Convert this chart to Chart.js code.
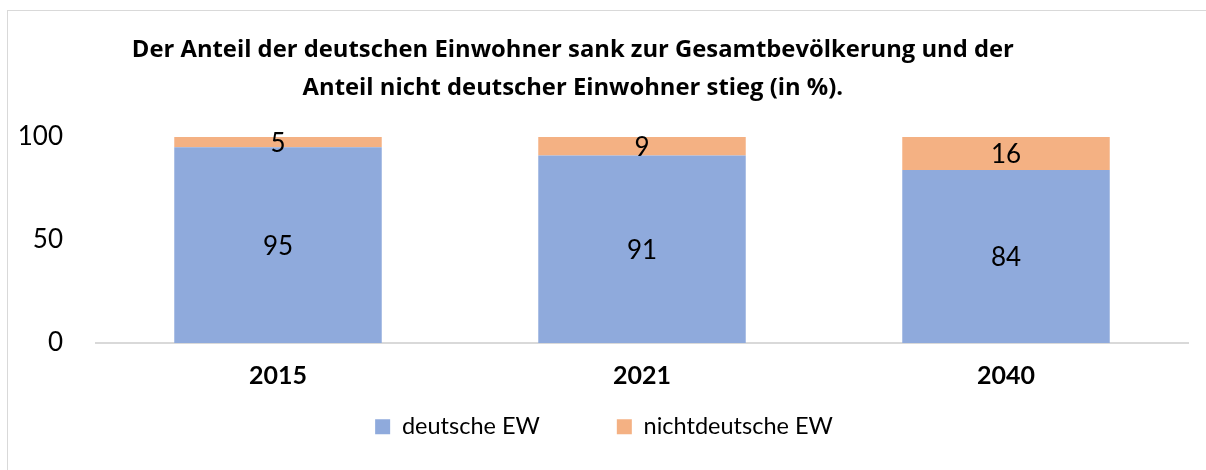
<!DOCTYPE html>
<html>
<head>
<meta charset="utf-8">
<script src="https://cdn.jsdelivr.net/npm/chart.js@4.4.0/dist/chart.umd.min.js"></script>
<style>
  html, body { margin: 0; padding: 0; background: #fff; overflow: hidden; }
  #wrap { position: relative; width: 1206px; height: 470px; }
  #frame { position: absolute; left: 7px; top: 10px; width: 1400px; height: 600px; border: 1px solid #d9d9d9; }
  canvas { position: absolute; left: 0; top: 0; }
</style>
</head>
<body>
<div id="wrap">
  <div id="frame"></div>
  <canvas id="chart" width="1206" height="470"></canvas>
</div>
<script>
const years = ['2015', '2021', '2040'];
const deutsche = [95, 91, 84];
const nichtdeutsche = [5, 9, 16];
const titleLines = [
  'Der Anteil der deutschen Einwohner sank zur Gesamtbevölkerung und der',
  'Anteil nicht deutscher Einwohner stieg (in %).'
];

const FONT = 'Lato';

// draws the values in the middle of every segment
const valueLabels = {
  id: 'valueLabels',
  afterDatasetsDraw(chart) {
    const ctx = chart.ctx;
    ctx.save();
    ctx.font = '26px ' + FONT;
    ctx.fillStyle = '#000';
    ctx.textAlign = 'center';
    ctx.textBaseline = 'middle';
    chart.data.datasets.forEach((ds, i) => {
      chart.getDatasetMeta(i).data.forEach((bar, j) => {
        const p = bar.getProps(['x', 'y', 'base'], true);
        ctx.fillText(ds.data[j], p.x, (p.y + p.base) / 2 + 1);
      });
    });
    ctx.restore();
  }
};

// title sits a bit left of the chart centre in the original
const titleText = {
  id: 'titleText',
  afterDraw(chart) {
    const ctx = chart.ctx;
    ctx.save();
    ctx.font = 'bold 23.8px "Open Sans"';
    ctx.fillStyle = '#000';
    ctx.textAlign = 'center';
    ctx.textBaseline = 'middle';
    const cx = chart.width * 0.475;
    ctx.fillText(titleLines[0], cx, 50);
    ctx.fillText(titleLines[1], cx, 88);
    ctx.restore();
  }
};

// the wide gap between legend items needs a big padding, which also pushes
// the legend down; pull it back up right under the x axis
const legendUp = {
  id: 'legendUp',
  afterLayout(chart) {
    if (chart.legend) {
      chart.legend.top = chart.scales.x.top - 5;
      chart.legend.bottom = chart.legend.top + chart.legend.height;
    }
  }
};

new Chart(document.getElementById('chart'), {
  type: 'bar',
  data: {
    labels: years,
    datasets: [
      {
        label: 'deutsche EW',
        data: deutsche,
        backgroundColor: '#8faadc',
        barPercentage: 0.57,
        categoryPercentage: 1,
      },
      {
        label: 'nichtdeutsche EW',
        data: nichtdeutsche,
        backgroundColor: '#f4b183',
        barPercentage: 0.57,
        categoryPercentage: 1,
      },
    ],
  },
  options: {
    responsive: false,
    animation: false,
    layout: {
      padding: { top: 137, left: 20, right: 18, bottom: -41.5 },
    },
    plugins: {
      legend: {
        position: 'bottom',
        labels: {
          boxWidth: 15,
          boxHeight: 15,
          padding: 77,
          color: '#000',
          font: { family: FONT, size: 23.5 },
        },
      },
      title: { display: false },
      tooltip: { enabled: false },
    },
    scales: {
      x: {
        stacked: true,
        grid: { display: false },
        border: { color: '#d9d9d9', width: 2 },
        ticks: {
          color: '#000',
          padding: 10,
          font: { family: FONT, size: 25, weight: 'bold' },
        },
      },
      y: {
        stacked: true,
        min: 0,
        max: 100,
        grid: { display: false },
        border: { display: false },
        afterFit(scale) { scale.width = 76; },
        ticks: {
          stepSize: 50,
          color: '#000',
          padding: 25,
          font: { family: FONT, size: 26 },
        },
      },
    },
  },
  plugins: [valueLabels, titleText, legendUp],
});
</script>
</body>
</html>
